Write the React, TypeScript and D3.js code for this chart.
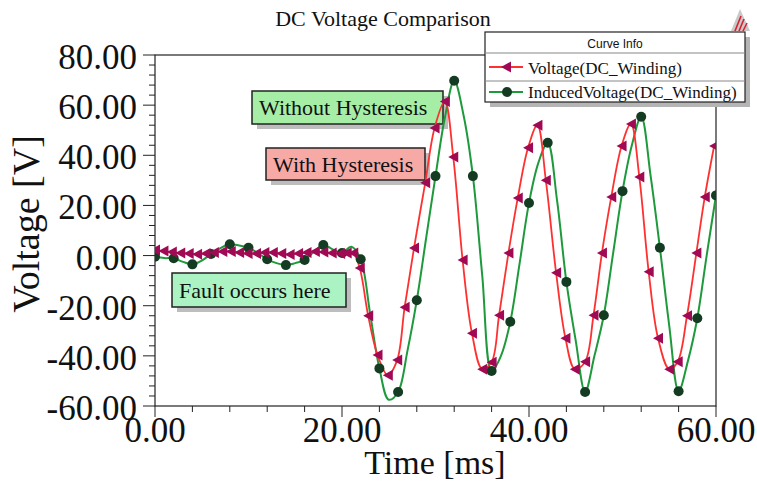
import React from "react";
import * as d3 from "d3";

// Voltage(DC_Winding) - red line, marker times (ms) and values (V)
const voltTimes = [
  0, 0.9, 1.8, 2.7, 3.6, 4.5, 5.4, 6.3, 7.2, 8.1, 9.0, 9.9, 10.8, 11.7, 12.6,
  13.5, 14.4, 15.3, 16.2, 17.1, 18.0, 18.9, 19.8, 20.5, 21.2,
  21.9, 22.8, 23.8, 24.9, 25.9, 26.7, 27.7, 28.9, 29.9, 31.0, 31.9, 32.9,
  33.9, 35.0, 36.0, 36.8, 37.8, 38.8, 39.9, 40.9, 41.8, 42.9, 43.9, 44.9,
  46.0, 46.9, 47.8, 48.8, 49.9, 50.9, 51.8, 52.8, 53.8, 55.0, 55.9, 56.9,
  57.9, 58.8, 59.8,
];
const voltValues = [
  2.2, 1.8, 1.4, 1.0, 0.8, 0.5, 0.8, 1.2, 1.6, 1.6, 1.2, 0.8, 0.8, 1.2, 1.2,
  0.8, 0.4, 0.8, 1.2, 1.6, 1.4, 1.0, 0.8, 1.0, 1.0,
  -5, -24, -39.7, -47.7, -41.7, -20.6, 3, 29, 50.9, 61.5, 39.3, -1.8,
  -31, -45.3, -42.5, -23.8, 1, 23, 43, 52, 30, -6.9, -33, -45.3,
  -42.4, -23.8, 1, 23.4, 43.7, 52.5, 31.3, -6.5, -33, -45.3, -42.4, -24,
  1, 23.4, 43.7,
];

// InducedVoltage(DC_Winding) - green line, one value per ms, marker every 2 ms
const inducedTimes = d3.range(0, 61);
const inducedValues = [
  -0.5, -1, -1.1, -2.5, -3.5, -2, 0.6, 3, 4.5, 4, 3.1, 1, -1.5, -3, -3.8,
  -3, -1.8, 1.5, 4.2, 2.5, 1, 3.5, -1.5, -23, -45, -57.5, -54.4, -38, -17.8,
  7, 31.7, 55, 69.7, 56, 31.7, -8, -46, -40, -26.4, -3, 21, 37, 45, 22,
  -10.5, -34, -54.4, -40, -23.8, 1, 25.7, 44, 55.4, 32, 3.1, -28, -54.1,
  -42, -25, 0, 24,
];

const xTicks = [0, 20, 40, 60];
const xMinorTicks = d3.range(0, 61, 4);
const yTicks = [-60, -40, -20, 0, 20, 40, 60, 80];
const yMinorTicks = d3.range(-60, 81, 4);

const chartTitle = "DC Voltage Comparison";
const xTitle = "Time [ms]";
const yTitle = "Voltage [V]";
const legendTitle = "Curve Info";
const seriesNames = ["Voltage(DC_Winding)", "InducedVoltage(DC_Winding)"];
const noteTexts = ["Without Hysteresis", "With Hysteresis", "Fault occurs here"];

const SERIF = "'Liberation Serif', 'Times New Roman', serif";
const SANS = "'Liberation Sans', Arial, sans-serif";
const RED = "#ff3030";
const MAGENTA = "#a00a55";
const GREEN = "#1e9a3c";
const DARKGREEN = "#143c22";

const triPath = "M-5,0 L5,-5.5 L5,5.5 Z";

export default function App() {
  const left = 155, right = 716, top = 55, bottom = 406;

  const x = d3.scaleLinear().domain([0, 60]).range([left, right]);
  const y = d3.scaleLinear().domain([-60, 80]).range([bottom, top]);

  const line = d3
    .line<[number, number]>()
    .x((d) => x(d[0]))
    .y((d) => y(d[1]))
    .curve(d3.curveCatmullRom.alpha(0.5));

  const volt: [number, number][] = voltTimes.map((t, i) => [t, voltValues[i]]);
  const induced: [number, number][] = inducedTimes.map((t, i) => [t, inducedValues[i]]);

  // annotation boxes: [x, y, w, h, fill, text x, text baseline]
  const notes = [
    { x: 252, y: 91, w: 191, h: 33, fill: "#a6eea6", tx: 259, ty: 115 },
    { x: 266, y: 148, w: 159, h: 32, fill: "#f7a9a6", tx: 273, ty: 172 },
    { x: 172, y: 273, w: 174, h: 34, fill: "#abf3c3", tx: 179, ty: 298 },
  ];

  return (
    <svg
      width={757}
      height={481}
      style={{ position: "absolute", left: 0, top: 0, background: "#fff" }}
    >
      <defs>
        <clipPath id="plot">
          <rect x={left} y={top - 10} width={right - left} height={bottom - top + 10} />
        </clipPath>
      </defs>
      <rect width={757} height={481} fill="#fff" />

      {/* title */}
      <text x={383} y={26} textAnchor="middle" fontFamily={SERIF} fontSize={22} fill="#111">
        {chartTitle}
      </text>

      {/* logo */}
      <g>
        <polygon points="740,9 731,31 750,31" fill="#c9c9c9" />
        <line x1={735} y1={31} x2={741} y2={16} stroke="#d8202f" strokeWidth={1.6} />
        <line x1={739} y1={31} x2={744} y2={19} stroke="#d8202f" strokeWidth={1.6} />
        <line x1={743} y1={31} x2={747} y2={23} stroke="#d8202f" strokeWidth={1.6} />
      </g>

      {/* annotation boxes */}
      {notes.map((n, i) => (
        <g key={i}>
          <rect x={n.x + 5} y={n.y + 5} width={n.w} height={n.h} fill="#bdbdbd" />
          <rect x={n.x} y={n.y} width={n.w} height={n.h} fill={n.fill} stroke="#222" strokeWidth={1.5} />
          <text x={n.tx} y={n.ty} fontFamily={SERIF} fontSize={22} fill="#111">
            {noteTexts[i]}
          </text>
        </g>
      ))}

      {/* frame */}
      <rect x={left} y={top} width={right - left} height={bottom - top} fill="none" stroke="#222" strokeWidth={1.2} />

      {/* y axis ticks */}
      {yMinorTicks.map((v) => (
        <line key={"ym" + v} x1={left - (yTicks.includes(v) ? 12 : 6)} x2={left} y1={y(v)} y2={y(v)} stroke="#222" />
      ))}
      {yTicks.map((v) => (
        <text key={"yl" + v} x={137} y={y(v) + 14} textAnchor="end" fontFamily={SERIF} fontSize={35} fill="#111">
          {v.toFixed(2)}
        </text>
      ))}

      {/* x axis ticks */}
      {xMinorTicks.map((v) => (
        <line key={"xm" + v} x1={x(v)} x2={x(v)} y1={bottom} y2={bottom + (xTicks.includes(v) ? 11 : 6)} stroke="#222" />
      ))}
      {xTicks.map((v) => (
        <text key={"xl" + v} x={x(v)} y={442} textAnchor="middle" fontFamily={SERIF} fontSize={35} fill="#111">
          {v.toFixed(2)}
        </text>
      ))}

      {/* axis titles */}
      <text x={435} y={474} textAnchor="middle" fontFamily={SERIF} fontSize={34} fill="#111">
        {xTitle}
      </text>
      <text
        transform={`translate(39,224) rotate(-90)`}
        textAnchor="middle"
        fontFamily={SERIF}
        fontSize={38}
        fill="#111"
      >
        {yTitle}
      </text>

      {/* curves */}
      <g clipPath="url(#plot)">
        <path d={line(induced) || ""} fill="none" stroke={GREEN} strokeWidth={2} />
        <path d={line(volt) || ""} fill="none" stroke={RED} strokeWidth={1.8} />
        {induced
          .filter((_, i) => i % 2 === 0)
          .map((d, i) => (
            <circle key={"c" + i} cx={x(d[0])} cy={y(d[1])} r={5} fill={DARKGREEN} />
          ))}
        {volt.map((d, i) => (
          <path key={"t" + i} d={triPath} transform={`translate(${x(d[0])},${y(d[1])})`} fill={MAGENTA} />
        ))}
      </g>

      {/* legend */}
      <g>
        <rect x={490} y={37} width={260} height={70} fill="#b5b5b5" />
        <rect x={485} y={32} width={260} height={70} fill="#fff" stroke="#222" strokeWidth={1.2} />
        <text x={615} y={48} textAnchor="middle" fontFamily={SANS} fontSize={12} fill="#111">
          {legendTitle}
        </text>
        <line x1={485} x2={745} y1={53} y2={53} stroke="#888" />
        <line x1={485} x2={745} y1={81} y2={81} stroke="#888" />
        <line x1={489} x2={523} y1={67} y2={67} stroke={RED} strokeWidth={2} />
        <path d={triPath} transform="translate(506,67)" fill={MAGENTA} />
        <text x={528} y={74} fontFamily={SERIF} fontSize={17} fill="#111">
          {seriesNames[0]}
        </text>
        <line x1={489} x2={523} y1={92} y2={92} stroke={GREEN} strokeWidth={2} />
        <circle cx={507} cy={92} r={5} fill={DARKGREEN} />
        <text x={528} y={98} fontFamily={SERIF} fontSize={17} fill="#111">
          {seriesNames[1]}
        </text>
      </g>
    </svg>
  );
}
